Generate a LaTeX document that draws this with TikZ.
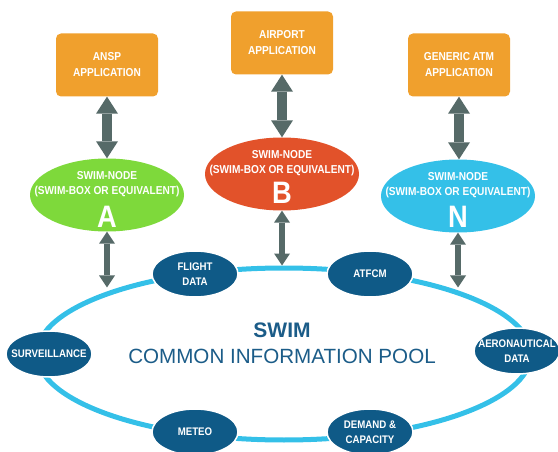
\documentclass[tikz,border=0pt]{standalone}
\usepackage{fontspec}
\setmainfont{Liberation Sans}
\newfontfamily\narrowfont[FakeStretch=0.88]{Liberation Sans}
\usepackage{xcolor}
\usepackage{tikz}
\usetikzlibrary{arrows.meta}
\usetikzlibrary{calc}
\usetikzlibrary{positioning}
\usetikzlibrary{shapes.geometric}

\definecolor{apporange}{HTML}{F0A02D}
\definecolor{nodegreen}{HTML}{7ED93B}
\definecolor{nodered}{HTML}{E2522A}
\definecolor{ringblue}{HTML}{34C0E8}
\definecolor{infoblue}{HTML}{0F5A87}
\definecolor{arrowgray}{HTML}{566A68}
\definecolor{titleblue}{HTML}{1B5C88}

\begin{document}
\begin{tikzpicture}[x=1pt, y=-1pt,
app/.style ={rectangle, rounded corners=5pt, fill=apporange, minimum width=102pt, minimum height=63pt, inner sep=0pt, text=white, align=center, font=\narrowfont\bfseries\fontsize{11.5}{16}\selectfont},
swimnode/.style ={ellipse, inner sep=0pt, minimum width=154pt, minimum height=73pt},
nodetext/.style ={text=white, inner sep=0pt, anchor=base, font=\narrowfont\bfseries\fontsize{11.5}{15}\selectfont},
letter/.style ={text=white, inner sep=0pt, anchor=base, font=\narrowfont\bfseries\fontsize{31}{31}\selectfont},
info/.style ={ellipse, fill=infoblue, draw=white, line width=1.5pt, minimum width=86pt, minimum height=46pt, inner sep=0pt},
infotext/.style ={text=white, inner sep=0pt, align=center, font=\narrowfont\bfseries\fontsize{11}{15}\selectfont},
bigarrow/.style ={draw=arrowgray, line width=10pt, {Triangle[width=22pt,length=17pt,line width=0pt]}-{Triangle[width=22pt,length=17pt,line width=0pt]}},
smallarrow/.style ={draw=arrowgray, line width=6pt, {Triangle[width=16pt,length=12pt,line width=0pt]}-{Triangle[width=16pt,length=12pt,line width=0pt]}}]
\useasboundingbox (0,0) rectangle (558,452);

% applications
\node[app] (ansp) at (107,65) {ANSP\\APPLICATION};
\node[app] (airport) at (282,43) {AIRPORT\\APPLICATION};
\node[app] (generic) at (459,65) {GENERIC ATM\\APPLICATION};

% swim nodes
\node[swimnode, fill=nodegreen] (nodeA) at (107,195) {};
\node[swimnode, fill=nodered] (nodeB) at (282,174) {};
\node[swimnode, fill=ringblue] (nodeN) at (458,196) {};
\node[nodetext] at ($(nodeA)+(0,-15)$) {SWIM-NODE};
\node[nodetext] at (nodeA) {(SWIM-BOX OR EQUIVALENT)};
\node[letter] at ($(nodeA)+(0,32)$) {A};
\node[nodetext] at ($(nodeB)+(0,-15)$) {SWIM-NODE};
\node[nodetext] at (nodeB) {(SWIM-BOX OR EQUIVALENT)};
\node[letter] at ($(nodeB)+(0,30)$) {B};
\node[nodetext] at ($(nodeN)+(0,-15)$) {SWIM-NODE};
\node[nodetext] at (nodeN) {(SWIM-BOX OR EQUIVALENT)};
\node[letter] at ($(nodeN)+(0,31)$) {N};

% common information pool
\node[ellipse, draw=ringblue, line width=5pt, minimum width=494pt, minimum height=172pt, inner sep=0pt] (pool) at (284,354) {};
\node[anchor=base, inner sep=0pt, text=titleblue, font=\bfseries\fontsize{21}{21}\selectfont] (swim) at (282,337) {SWIM};
\node[anchor=base, inner sep=0pt, text=titleblue, font=\fontsize{20.6}{21}\selectfont] (cip) at (282,363) {COMMON INFORMATION POOL};

\node[info, label={[infotext]center:{FLIGHT\\DATA}}] (flight) at (195,274) {};
\node[info, label={[infotext]center:ATFCM}] (atfcm) at (370,274) {};
\node[info, label={[infotext]center:SURVEILLANCE}] (surv) at (49,354) {};
\node[info, label={[infotext]center:{AERONAUTICAL\\DATA}}] (aero) at (517,351) {};
\node[info, label={[infotext]center:METEO}] (meteo) at (195,432) {};
\node[info, label={[infotext]center:{DEMAND \&\\CAPACITY}}] (demand) at (370,432) {};

% links
\draw[bigarrow] (ansp.south) -- (nodeA.north);
\draw[bigarrow] (airport.south) -- (nodeB.north);
\draw[bigarrow] (generic.south) -- (generic.south |- nodeN.north);
\draw[smallarrow] (nodeA.south) -- (nodeA.south |- pool.158);
\draw[smallarrow] (nodeB.south) -- (nodeB.south |- pool.north);
\draw[smallarrow] (nodeN.south) -- (nodeN.south |- pool.22);
\end{tikzpicture}
\end{document}
